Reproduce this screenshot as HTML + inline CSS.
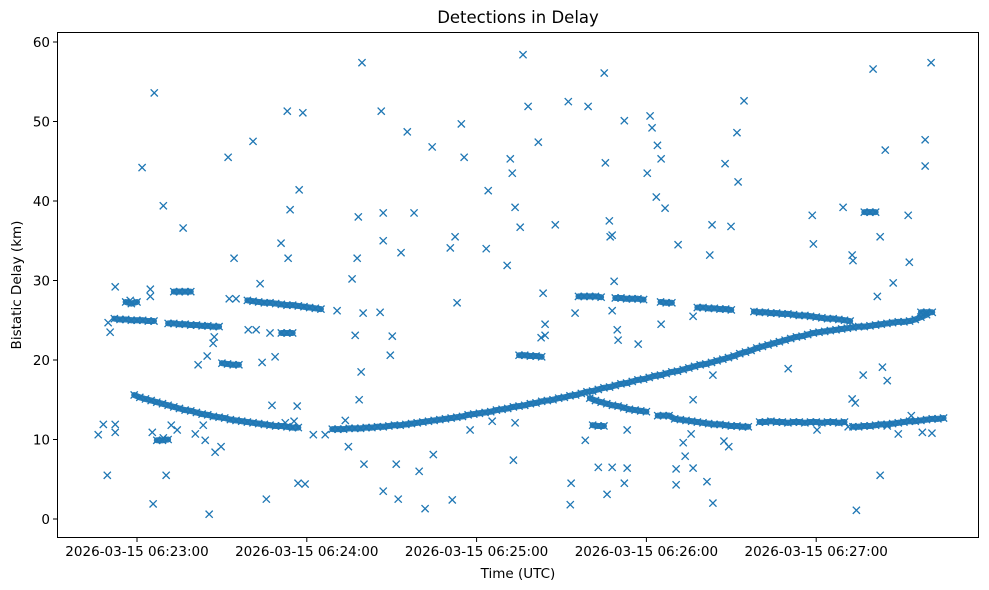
<!DOCTYPE html>
<html><head><meta charset="utf-8"><style>
html,body{margin:0;padding:0;background:#fff;}
svg{display:block;font-family:"DejaVu Sans","Liberation Sans",sans-serif;}
</style></head><body>
<svg id="chart" width="989" height="590" xmlns="http://www.w3.org/2000/svg">
<rect x="0" y="0" width="989" height="590" fill="#fff"/>
<text x="518" y="23" text-anchor="middle" font-size="16.5" fill="#000">Detections in Delay</text>
<text x="518" y="578" text-anchor="middle" font-size="13.5" fill="#000">Time (UTC)</text>
<text x="0" y="0" transform="translate(21,285) rotate(-90)" text-anchor="middle" font-size="13.5" fill="#000">Bistatic Delay (km)</text>
<g id="bands"></g>
<g id="marks"></g>
<g id="axes"></g>
<rect x="57.5" y="32.5" width="921" height="505" fill="none" stroke="#000" stroke-width="1"/>
</svg>
<script>
// times: seconds after 06:21:53 ; delays in km
const trackATimes=[66,68,70,72,74,76,78,80,82,84,86,88,90,92,94,96,98,100,102,104,106,108,110,112,114,116,118,120,122,124];
const trackADelays=[15.6,15.3,15.1,14.9,14.7,14.5,14.3,14.1,13.9,13.7,13.6,13.4,13.2,13.1,12.9,12.8,12.7,12.5,12.4,12.3,12.2,12.1,12.0,11.9,11.8,11.7,11.7,11.6,11.5,11.5];
const riseTimes=[136,138,140,142,144,146,148,150,152,154,156,158,160,162,164,166,168,170,172,174,176,178,180,182,184,186,188,190,192,194,196,198,200,202,204,206,208,210,212,214,216,218,220,222,224,226,228,230,232,234,236,238,240,242,244,246,248,250,252,254,256,258,260,262,264,266,268,270,272,274,276,278,280,282,284,286,288,290,292,294,296,298,300,302,304,306,308,310,312,314,316,318,320,322,324,326,328,330,332,334,336,338,340,342,344,346];
const riseDelays=[11.3,11.3,11.3,11.4,11.4,11.4,11.5,11.5,11.6,11.6,11.7,11.8,11.8,11.9,12.0,12.1,12.2,12.3,12.4,12.5,12.6,12.7,12.8,12.9,13.1,13.2,13.3,13.4,13.5,13.7,13.8,13.9,14.1,14.2,14.3,14.5,14.6,14.8,14.9,15.0,15.2,15.3,15.5,15.6,15.8,16.0,16.1,16.3,16.5,16.6,16.8,17.0,17.1,17.3,17.5,17.6,17.8,18.0,18.1,18.3,18.5,18.6,18.8,19.0,19.2,19.4,19.5,19.7,19.9,20.1,20.3,20.5,20.8,21.0,21.2,21.5,21.7,21.9,22.1,22.3,22.5,22.7,22.9,23.0,23.2,23.4,23.5,23.6,23.7,23.8,23.9,24.0,24.1,24.2,24.2,24.3,24.4,24.5,24.6,24.7,24.8,24.8,24.9,25.1,25.4,25.7];
const trackDTimes=[227,229,231,233,235,237,239,241,243,245,247,251,253,255,257,259,261,263,265,267,269,271,273,275,277,279,281,283,287,289,291,293,295,297,299,301,303,305,307,309,311,313,315,317,320,322,324,326,328,330,332,334,336,338,340,342,344,346,348,350,352];
const trackDDelays=[15.2,14.9,14.7,14.5,14.3,14.2,14.0,13.8,13.7,13.6,13.5,13.0,13.0,13.0,12.6,12.5,12.4,12.3,12.2,12.1,12.0,11.9,11.9,11.8,11.7,11.7,11.6,11.6,12.2,12.2,12.3,12.2,12.2,12.1,12.2,12.2,12.1,12.2,12.2,12.1,12.2,12.2,12.1,12.2,11.6,11.6,11.7,11.7,11.8,11.9,11.9,12.0,12.1,12.2,12.3,12.3,12.4,12.5,12.6,12.6,12.7];
const upperTimes=[59,61,63,65,67,69,71,73,78,80,82,84,86,88,90,92,94,96,97,99,101,103,106,108,110,112,114,116,118,120,122,124,126,128,130,132,80,82,84,86,118,120,122,63,65,67,223,225,227,229,231,236,238,240,242,244,246,252,254,256,265,267,269,271,273,275,277,285,287,289,291,293,295,297,299,301,303,305,307,309,311,313,315,317,319,324,326,328,344,346,348,202,204,206,208,210,228,230,232,74,76,78];
const upperDelays=[25.2,25.1,25.1,25.0,25.0,25.0,24.9,24.9,24.6,24.6,24.5,24.5,24.4,24.4,24.3,24.3,24.2,24.2,19.6,19.5,19.4,19.4,27.5,27.4,27.3,27.2,27.2,27.1,27.0,26.9,26.9,26.8,26.7,26.6,26.5,26.4,28.6,28.6,28.6,28.6,23.4,23.4,23.4,27.3,27.1,27.3,28.0,28.0,28.0,28.0,27.9,27.8,27.8,27.7,27.7,27.7,27.6,27.3,27.2,27.2,26.6,26.6,26.5,26.5,26.4,26.4,26.3,26.1,26.0,26.0,25.9,25.9,25.8,25.8,25.7,25.6,25.6,25.5,25.4,25.3,25.2,25.2,25.1,25.0,24.9,38.6,38.6,38.6,26.0,26.0,26.0,20.6,20.6,20.5,20.5,20.4,11.8,11.7,11.7,9.9,9.9,10.0];
const outlierTimes=[53.3,55.1,56.5,56.8,57.5,59.3,59.3,59.3,64.6,68.8,71.7,71.7,72.4,73.1,72.7,76.3,76.3,77.3,79.1,81.2,83.3,87.6,88.6,90.4,91.1,91.8,92.5,93.9,94.3,94.6,96.7,99.2,101.3,99.6,102,106.3,108,109.1,110.5,111.2,112.7,114,114.7,115.8,117.9,119.4,120.1,120.4,121.1,122.5,123.6,123.9,124.3,125.6,126.4,129.3,133.5,137.7,140.6,141.7,143,144.1,144.8,145.2,145.5,146.2,146.5,146.9,147.2,152.9,154,154,153.3,154,156.5,157.2,158.6,159.3,160.3,162.5,164.9,166.7,168.8,171.3,171.7,177.7,178.4,179.4,180.1,181.6,182.6,184.7,190.4,191.1,192.5,197.8,198.9,199.6,200,200.6,200.6,202.4,203.4,205.2,208.8,209.8,211.2,210.5,211.2,214.8,219.4,220.1,220.4,221.8,225.4,226.4,230,232.1,232.5,233.1,233.9,234.2,234.9,234.9,235.6,234.9,236.7,237,239.2,239.2,240.2,240.2,244.1,247.3,248.3,249,250.5,250.9,252.2,253.6,252.2,258.2,257.5,257.5,260,260.7,262.8,263.5,263.5,263.5,268.4,269.4,270.2,270.5,270.5,274.8,276.9,279,279.4,281.5,274.4,276.1,297.1,305.6,306,307.3,316.5,318.3,319.7,320,319.7,320.8,321.2,323.6,327.1,328.6,329.6,329.6,330.4,331.4,332.1,334.2,336,339.5,339.9,340.6,344.5,345.5,345.5,347.6,347.9,332.1];
const outlierDelays=[10.6,11.9,5.5,24.7,23.5,29.2,11.9,10.9,27.5,44.2,28.9,28.0,10.9,53.6,1.9,39.4,10.2,5.5,11.8,11.2,36.6,10.7,19.4,11.8,9.9,20.5,0.6,22.1,22.9,8.4,9.1,45.5,32.8,27.7,27.7,23.8,47.5,23.8,29.6,19.7,2.5,23.4,14.3,20.4,34.7,12.1,51.3,32.8,38.9,12.3,14.2,4.5,41.4,51.1,4.4,10.6,10.6,26.2,12.4,9.1,30.2,23.1,32.8,38.0,15.0,18.5,57.4,25.9,6.9,26.0,3.5,35.0,51.3,38.5,20.6,23.0,6.9,2.5,33.5,48.7,38.5,6.0,1.3,46.8,8.1,34.1,2.4,35.5,27.2,49.7,45.5,11.2,34.0,41.3,12.3,31.9,45.3,43.5,7.4,12.1,39.2,36.7,58.4,51.9,47.4,22.8,24.5,28.4,23.1,37.0,52.5,1.8,4.5,25.9,9.9,51.9,6.5,56.1,44.8,3.1,37.5,35.5,26.2,35.7,29.9,6.5,23.8,22.5,4.5,50.1,6.4,11.2,22.0,43.5,50.7,49.2,40.5,47.0,45.3,39.1,24.5,34.5,6.3,4.3,9.6,7.9,10.7,25.5,15.0,6.4,4.7,33.2,37.0,18.1,2.0,44.7,36.8,48.6,42.4,52.6,9.8,9.1,18.9,38.2,34.6,11.2,39.2,11.6,33.2,32.5,15.1,14.6,1.1,18.1,56.6,28.0,5.5,35.5,19.1,46.4,17.4,29.7,10.7,38.2,32.3,13.0,10.9,47.7,44.4,57.4,10.8,11.7];
const yTickValues=[0,10,20,30,40,50,60];
const xTickSeconds=[67,127,187,247,307];
const xTickLabels=["2026-03-15 06:23:00","2026-03-15 06:24:00","2026-03-15 06:25:00","2026-03-15 06:26:00","2026-03-15 06:27:00"];

const NS="http://www.w3.org/2000/svg";
function xScale(t){return 137+(t-67)*2.83;}
function yScale(d){return 519-d*7.95;}
const marks=document.getElementById('marks');
const bands=document.getElementById('bands');
const axes=document.getElementById('axes');
function drawSeries(ts,ds,name){
  for(let i=0;i<ts.length;i++){
    const cx=xScale(ts[i]),cy=yScale(ds[i]),r=3.6;
    const p=document.createElementNS(NS,'path');
    p.setAttribute('d',`M${cx-r},${cy-r}L${cx+r},${cy+r}M${cx-r},${cy+r}L${cx+r},${cy-r}`);
    p.setAttribute('stroke','#1f77b4');p.setAttribute('stroke-width','1.3');p.setAttribute('fill','none');
    
    
    marks.appendChild(p);
  }
}
function drawBand(ts,ds){
  for(let i=1;i<ts.length;i++){
    if(ts[i]-ts[i-1]>2.6||ts[i]<ts[i-1]||Math.abs(ds[i]-ds[i-1])>1) continue;
    const l=document.createElementNS(NS,'line');
    l.setAttribute('x1',xScale(ts[i-1]));l.setAttribute('y1',yScale(ds[i-1]));
    l.setAttribute('x2',xScale(ts[i]));l.setAttribute('y2',yScale(ds[i]));
    l.setAttribute('stroke','#2a7db8');l.setAttribute('stroke-width','6');l.setAttribute('stroke-linecap','round');
    
    
    bands.appendChild(l);
  }
}
drawBand(trackATimes,trackADelays);
drawBand(riseTimes,riseDelays);
drawBand(trackDTimes,trackDDelays);
drawBand(upperTimes,upperDelays);
drawSeries(trackATimes,trackADelays,'detection-point');
drawSeries(riseTimes,riseDelays,'detection-point');
drawSeries(trackDTimes,trackDDelays,'detection-point');
drawSeries(upperTimes,upperDelays,'detection-point');
drawSeries(outlierTimes,outlierDelays,'detection-point');
yTickValues.forEach(v=>{
  const y=yScale(v);
  const l=document.createElementNS(NS,'line');
  l.setAttribute('x1',53);l.setAttribute('x2',57);l.setAttribute('y1',y);l.setAttribute('y2',y);l.setAttribute('stroke','#000');
  
  
  axes.appendChild(l);
  const t=document.createElementNS(NS,'text');
  t.setAttribute('x',50);t.setAttribute('y',y+5);t.setAttribute('text-anchor','end');t.setAttribute('font-size','13.5');
  t.textContent=String(v);
  
  
  axes.appendChild(t);
});
xTickSeconds.forEach((s,i)=>{
  const x=xScale(s);
  const l=document.createElementNS(NS,'line');
  l.setAttribute('x1',x);l.setAttribute('x2',x);l.setAttribute('y1',538);l.setAttribute('y2',542);l.setAttribute('stroke','#000');
  
  
  axes.appendChild(l);
  const t=document.createElementNS(NS,'text');
  t.setAttribute('x',x);t.setAttribute('y',556);t.setAttribute('text-anchor','middle');t.setAttribute('font-size','13.5');
  t.textContent=xTickLabels[i];
  
  
  axes.appendChild(t);
});
</script>
</body></html>
